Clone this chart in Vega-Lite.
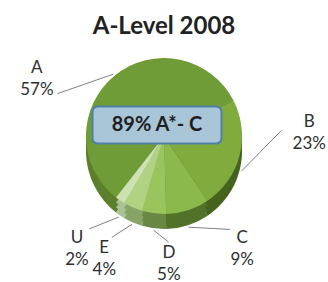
{
  "$schema": "https://vega.github.io/schema/vega-lite/v6.json",
  "width": 328,
  "height": 192,
  "autosize": {"type": "none"},
  "padding": {"top": 40, "bottom": 50, "left": 0, "right": 0},
  "background": "white",
  "title": {"text": "A-Level 2008", "font": "Lato", "fontSize": 24, "fontWeight": "bold", "color": "#222222", "offset": 1},
  "config": {"view": {"stroke": null}},
  "data": {"values": [
    {"grade": "A", "rank": 1, "value": 57, "label": "A\n57%"},
    {"grade": "B", "rank": 2, "value": 23, "label": "B\n23%"},
    {"grade": "C", "rank": 3, "value": 9, "label": "C\n9%"},
    {"grade": "D", "rank": 4, "value": 5, "label": "D\n5%"},
    {"grade": "E", "rank": 5, "value": 4, "label": "E\n4%"},
    {"grade": "U", "rank": 6, "value": 2, "label": "U\n2%"}
  ]},
  "layer": [
    {
      "mark": {"type": "arc", "outerRadius": 78, "yOffset": 15},
      "encoding": {
        "theta": {"field": "value", "type": "quantitative", "stack": true, "scale": {"domain": [0, 100], "range": [3.805, 10.088]}},
        "order": {"field": "rank", "type": "quantitative"},
        "color": {"field": "grade", "type": "nominal", "legend": null,
          "scale": {"domain": ["A", "B", "C", "D", "E", "U"], "range": ["#5b7f2a", "#45631f", "#52722a", "#6a8843", "#87a366", "#aac296"]}}
      }
    },
    {
      "mark": {"type": "arc", "outerRadius": 78, "yOffset": 10},
      "encoding": {
        "theta": {"field": "value", "type": "quantitative", "stack": true, "scale": {"domain": [0, 100], "range": [3.805, 10.088]}},
        "order": {"field": "rank", "type": "quantitative"},
        "color": {"field": "grade", "type": "nominal", "legend": null,
          "scale": {"domain": ["A", "B", "C", "D", "E", "U"], "range": ["#5b7f2a", "#45631f", "#52722a", "#6a8843", "#87a366", "#aac296"]}}
      }
    },
    {
      "mark": {"type": "arc", "outerRadius": 78, "yOffset": 5},
      "encoding": {
        "theta": {"field": "value", "type": "quantitative", "stack": true, "scale": {"domain": [0, 100], "range": [3.805, 10.088]}},
        "order": {"field": "rank", "type": "quantitative"},
        "color": {"field": "grade", "type": "nominal", "legend": null,
          "scale": {"domain": ["A", "B", "C", "D", "E", "U"], "range": ["#5b7f2a", "#45631f", "#52722a", "#6a8843", "#87a366", "#aac296"]}}
      }
    },
    {
      "mark": {"type": "arc", "outerRadius": 78},
      "encoding": {
        "theta": {"field": "value", "type": "quantitative", "stack": true, "scale": {"domain": [0, 100], "range": [3.805, 10.088]}},
        "order": {"field": "rank", "type": "quantitative"},
        "fill": {"field": "grade", "type": "nominal", "legend": null,
          "scale": {"domain": ["A", "B", "C", "D", "E", "U"], "range": ["#6f9c37", "#80ac3e", "#8cb94b", "#9ac45c", "#b1d283", "#cde2b2"]}}
      }
    },
    {
      "transform": [
        {"window": [{"op": "sum", "field": "value", "as": "cum"}], "sort": [{"field": "rank"}], "frame": [null, 0]},
        {"calculate": "3.805 + 2 * PI * (datum.cum - datum.value / 2) / 100", "as": "mid"},
        {"calculate": "3.665 + 2 * PI * (datum.cum - datum.value / 2) / 100", "as": "lmid"},
        {"calculate": "(sin(datum.lmid) < 0 ? -160 : 146) * pow(abs(sin(datum.lmid)), 0.75)", "as": "lx"},
        {"calculate": "20 + (cos(datum.lmid) > 0 ? 55 : 148) * cos(datum.lmid)", "as": "ly"},
        {"calculate": "80 * sin(datum.mid)", "as": "rx"},
        {"calculate": "80 * cos(datum.mid) - (cos(datum.mid) < 0 ? 15 : 0)", "as": "ry"},
        {"calculate": "datum.lx - 28 * sin(datum.lmid)", "as": "ex"},
        {"calculate": "datum.ly - 22 * cos(datum.lmid)", "as": "ey"}
      ],
      "layer": [
        {
          "mark": {"type": "rule", "color": "#808080", "strokeWidth": 1},
          "encoding": {
            "x": {"field": "rx", "type": "quantitative", "axis": null, "scale": {"domain": [-164, 164], "zero": false, "nice": false}},
            "y": {"field": "ry", "type": "quantitative", "axis": null, "scale": {"domain": [-96, 96], "zero": false, "nice": false}},
            "x2": {"field": "ex"},
            "y2": {"field": "ey"}
          }
        },
        {
          "mark": {"type": "text", "font": "Lato", "fontSize": 17, "color": "#2e2e2e", "lineBreak": "\n", "lineHeight": 22, "dy": -11},
          "encoding": {
            "x": {"field": "lx", "type": "quantitative", "axis": null, "scale": {"domain": [-164, 164], "zero": false, "nice": false}},
            "y": {"field": "ly", "type": "quantitative", "axis": null, "scale": {"domain": [-96, 96], "zero": false, "nice": false}},
            "text": {"field": "label", "type": "nominal"}
          }
        }
      ]
    },
    {
      "data": {"values": [{"note": "89% A*- C"}]},
      "layer": [
        {
          "mark": {"type": "point", "filled": true, "fill": "#a9c5d8", "stroke": "#4f81a8", "strokeWidth": 2, "opacity": 1, "fillOpacity": 1, "size": 16641, "xOffset": -7, "yOffset": -11,
            "shape": "M-0.91,-0.287H0.91Q1,-0.287 1,-0.197V0.197Q1,0.287 0.91,0.287H-0.91Q-1,0.287 -1,0.197V-0.197Q-1,-0.287 -0.91,-0.287Z"},
          "encoding": {}
        },
        {
          "mark": {"type": "text", "font": "Lato", "fontSize": 20, "fontWeight": "bold", "color": "#1e1e1e", "xOffset": -7, "yOffset": -11},
          "encoding": {"text": {"field": "note", "type": "nominal"}}
        }
      ]
    }
  ]
}
